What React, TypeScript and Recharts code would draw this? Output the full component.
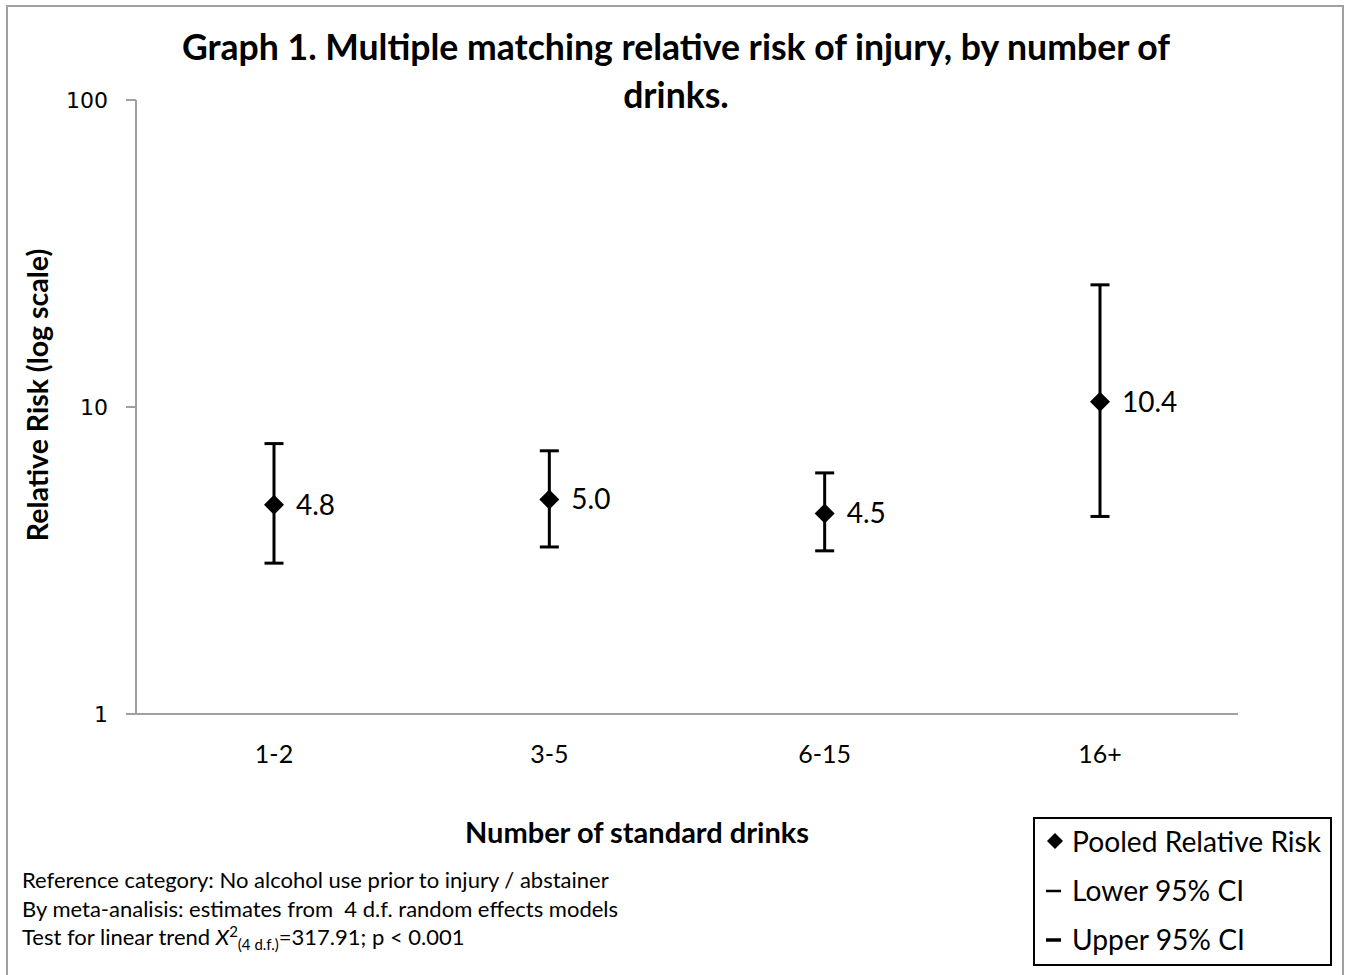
import { ComposedChart, Line, XAxis, YAxis, ErrorBar, LabelList } from 'recharts';

// number of standard drinks per occasion
const categories = ['1-2', '3-5', '6-15', '16+'];
// pooled relative risk and its 95% CI
const pooledRR = [4.8, 5.0, 4.5, 10.4];
const lowerCI = [3.1, 3.5, 3.4, 4.4];
const upperCI = [7.6, 7.2, 6.1, 25.0];
const yTicks = [1, 10, 100];

const data = categories.map((cat, i) => ({
  cat,
  rr: pooledRR[i],
  ci: [pooledRR[i] - lowerCI[i], upperCI[i] - pooledRR[i]],
}));

const FONT = 'Lato, "Open Sans", sans-serif';

const Diamond = (props: any) => {
  const { cx, cy } = props;
  if (cx == null || cy == null) return null;
  const r = 10;
  return (
    <polygon
      points={`${cx},${cy - r} ${cx + r},${cy} ${cx},${cy + r} ${cx - r},${cy}`}
      fill="#000"
    />
  );
};

export default function App() {
  return (
    <div
      style={{
        position: 'absolute',
        left: 0,
        top: 0,
        width: 1349,
        height: 975,
        overflow: 'hidden',
        background: '#fff',
        fontFamily: FONT,
      }}
    >
      <div
        style={{
          position: 'absolute',
          left: 6,
          top: 5,
          width: 1338,
          height: 990,
          border: '2px solid #a0a0a0',
          boxSizing: 'border-box',
        }}
      />
      <ComposedChart
        width={1349}
        height={975}
        data={data}
        margin={{ top: 100, right: 111, bottom: 201, left: 76 }}
        style={{ position: 'absolute', left: 0, top: 0 }}
      >
        <XAxis
          dataKey="cat"
          padding={{ left: 138, right: 138 }}
          tickLine={false}
          tickSize={0}
          tickMargin={31}
          height={60}
          axisLine={{ stroke: '#a0a0a0', strokeWidth: 2 }}
          tick={{ fontFamily: FONT, fontSize: 25, fill: '#000' }}
          label={{
            content: (p: any) => (
              <text
                x={637}
                y={p.viewBox.y + 129}
                textAnchor="middle"
                fontFamily={FONT}
                fontSize={29}
                fontWeight={700}
                fill="#000"
              >
                Number of standard drinks
              </text>
            ),
          }}
        />
        <YAxis
          type="number"
          scale="log"
          domain={[1, 100]}
          ticks={yTicks}
          allowDataOverflow
          width={60}
          tickSize={10}
          tickMargin={18}
          axisLine={{ stroke: '#a0a0a0', strokeWidth: 2 }}
          tickLine={{ stroke: '#a0a0a0', strokeWidth: 2 }}
          tick={{ fontFamily: 'DejaVu Sans', fontSize: 22, fill: '#000' }}
          label={{
            content: (p: any) => {
              const cy = p.viewBox.y + p.viewBox.height / 2 - 12;
              return (
                <text
                  x={37}
                  y={cy}
                  transform={`rotate(-90, 37, ${cy})`}
                  textAnchor="middle"
                  dominantBaseline="central"
                  fontFamily={FONT}
                  fontSize={28.5}
                  fontWeight={700}
                  fill="#000"
                >
                  Relative Risk (log scale)
                </text>
              );
            },
          }}
        />
        <Line
          dataKey="rr"
          stroke="none"
          isAnimationActive={false}
          dot={(p: any) => <Diamond key={p.index} {...p} />}
          activeDot={false}
        >
          <ErrorBar dataKey="ci" direction="y" width={9.5} stroke="#000" strokeWidth={3} />
          <LabelList
            dataKey="rr"
            position="right"
            offset={22}
            formatter={(v: any) => Number(v).toFixed(1)}
            style={{ fontFamily: FONT, fontSize: 28, fill: '#000' }}
          />
        </Line>
      </ComposedChart>

      <div
        style={{
          position: 'absolute',
          left: 0,
          width: 1352,
          top: 23,
          textAlign: 'center',
          fontSize: 35.6,
          fontWeight: 700,
          lineHeight: '48px',
          color: '#000',
        }}
      >
        Graph 1. Multiple matching relative risk of injury, by number of
        <br />
        drinks.
      </div>

      <div
        style={{
          position: 'absolute',
          left: 22,
          top: 866,
          fontSize: 22,
          lineHeight: '28.5px',
          color: '#000',
          whiteSpace: 'nowrap',
        }}
      >
        <div>Reference category: No alcohol use prior to injury / abstainer</div>
        <div>By meta-analisis: estimates from&nbsp; 4 d.f. random effects models</div>
        <div style={{ height: 28.5 }}>
          Test for linear trend <i>X</i>
          <sup style={{ fontSize: 15, lineHeight: 0 }}>2</sup>
          <sub style={{ fontSize: 15, lineHeight: 0 }}>(4 d.f.)</sub>=317.91; p &lt; 0.001
        </div>
      </div>

      <div
        style={{
          position: 'absolute',
          left: 1033,
          top: 817,
          width: 299,
          height: 149,
          border: '2px solid #000',
          boxSizing: 'border-box',
          fontSize: 28.2,
          color: '#000',
        }}
      >
        {[
          { name: 'Pooled Relative Risk', mark: 'diamond', thick: 0 },
          { name: 'Lower 95% CI', mark: 'dash', thick: 2.5 },
          { name: 'Upper 95% CI', mark: 'dash', thick: 3.5 },
        ].map((item) => (
          <div
            key={item.name}
            style={{
              display: 'flex',
              alignItems: 'center',
              height: 49,
              paddingLeft: 9,
              position: 'relative',
              top: -3,
            }}
          >
            <svg width={24} height={20} style={{ marginRight: 4 }}>
              {item.mark === 'diamond' ? (
                <polygon points="11,2 19,10 11,18 3,10" fill="#000" />
              ) : (
                <rect x={2} y={11 - item.thick / 2} width={15} height={item.thick} fill="#000" />
              )}
            </svg>
            <span>{item.name}</span>
          </div>
        ))}
      </div>
    </div>
  );
}
